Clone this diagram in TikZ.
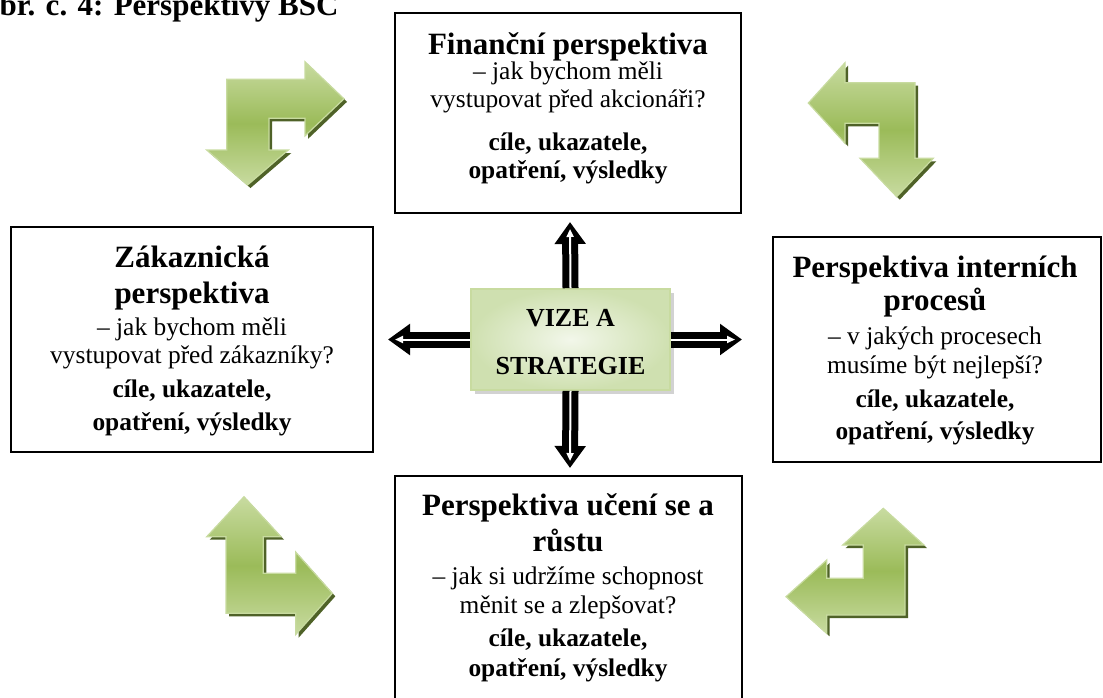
\documentclass[tikz,border=0pt]{standalone}
\usepackage{fontspec}
\setmainfont{Liberation Serif}
\usetikzlibrary{arrows.meta,shadows}
\definecolor{olivegreen}{RGB}{155,187,89}
\definecolor{olivelight}{RGB}{200,219,160}
\definecolor{olivedark}{RGB}{79,98,40}
\definecolor{vizelight}{RGB}{242,247,234}
\definecolor{vizedark}{RGB}{207,224,176}
\def\greenarrow#1{\fill[olivedark, shift={(3,3)}] #1 -- cycle; \shadedraw[top color=olivelight, bottom color=olivelight, middle color=olivegreen, draw=olivelight, line width=0.6pt] #1 -- cycle;}
\tikzset{
  persbox/.style={draw=black, line width=1pt, inner sep=0pt},
  headtext/.style={anchor=base, inner sep=0pt, font=\bfseries\fontsize{15.5}{18}\selectfont},
  bodytext/.style={anchor=base, inner sep=0pt, font=\fontsize{12.7}{14}\selectfont},
  boldtext/.style={anchor=base, inner sep=0pt, font=\bfseries\fontsize{12.7}{14}\selectfont},
  fatarrow/.style={line width=8pt, -{Triangle[width=15pt,length=11pt]}},
  thinarrow/.style={white, line width=1pt, shorten >=3.5pt, -{Triangle[width=3.5pt,length=4pt]}}
}

\begin{document}
\begin{tikzpicture}[x=0.5pt, y=-0.5pt]
		%%%%% START %%%%%
		\useasboundingbox (0,0) rectangle (1103,697);
		\clip (0,0) rectangle (1103,697);
		
		\node[anchor=base west, inner sep=0pt, font=\bfseries\fontsize{15.5}{18}\selectfont] (title) at (-25,15) {Obr. č. 4: Perspektivy BSC};
		
		\node[persbox, minimum width=173pt, minimum height=100pt] (fin) at (568,113) {};
		\node[persbox, minimum width=181pt, minimum height=112.5pt] (zak) at (192,339.5) {};
		\node[persbox, minimum width=164pt, minimum height=112.5pt] (int) at (937,349.5) {};
		\node[persbox, minimum width=173.5pt, minimum height=117pt] (uc) at (568.5,593) {};
		
		\node[draw=olivelight, line width=0.8pt, inner color=vizelight, outer color=vizedark, drop shadow={shadow xshift=1.8pt, shadow yshift=-1.8pt, fill=black!35}, minimum width=99.5pt, minimum height=50.5pt] (vize) at (570.5,339.5) {};
		\node[anchor=base, inner sep=0pt, font=\bfseries\fontsize{13}{15}\selectfont] (vize1) at (570.5,326.7) {VIZE A};
		\node[anchor=base, inner sep=0pt, font=\bfseries\fontsize{13}{15}\selectfont] (vize2) at (570.5,374) {STRATEGIE};
		
		\coordinate (upend) at (570,222);
		\coordinate (downend) at (570,468);
		\coordinate (leftend) at (388,339.5);
		\coordinate (rightend) at (742,339.5);
		\draw[fatarrow] (vize.north) -- (upend);
		\draw[thinarrow] (vize.north) -- (upend);
		\draw[fatarrow] (vize.south) -- (downend);
		\draw[thinarrow] (vize.south) -- (downend);
		\draw[fatarrow] (vize.west) -- (leftend);
		\draw[thinarrow] (vize.west) -- (leftend);
		\draw[fatarrow] (vize.east) -- (rightend);
		\draw[thinarrow] (vize.east) -- (rightend);
		
		\node[headtext] (fin1) at (568,54) {Finanční perspektiva};
		\node[bodytext] (fin2) at (568,79) {– jak bychom měli};
		\node[bodytext] (fin3) at (568,107) {vystupovat před akcionáři?};
		\node[boldtext] (fin4) at (568,150) {cíle, ukazatele,};
		\node[boldtext] (fin5) at (568,178) {opatření, výsledky};
		
		\node[headtext] (zak1) at (192,267) {Zákaznická};
		\node[headtext] (zak2) at (192,303) {perspektiva};
		\node[bodytext] (zak3) at (192,335) {– jak bychom měli};
		\node[bodytext] (zak4) at (192,363) {vystupovat před zákazníky?};
		\node[boldtext] (zak5) at (192,397) {cíle, ukazatele,};
		\node[boldtext] (zak6) at (192,430) {opatření, výsledky};
		
		\node[headtext] (int1) at (935,277) {Perspektiva interních};
		\node[headtext] (int2) at (935,310) {procesů};
		\node[bodytext] (int3) at (935,344) {– v jakých procesech};
		\node[bodytext] (int4) at (935,373) {musíme být nejlepší?};
		\node[boldtext] (int5) at (935,407) {cíle, ukazatele,};
		\node[boldtext] (int6) at (935,439) {opatření, výsledky};
		
		\node[headtext] (uc1) at (568,515) {Perspektiva učení se a};
		\node[headtext] (uc2) at (568,551) {růstu};
		\node[bodytext] (uc3) at (568,584) {– jak si udržíme schopnost};
		\node[bodytext] (uc4) at (568,613) {měnit se a zlepšovat?};
		\node[boldtext] (uc5) at (568,646) {cíle, ukazatele,};
		\node[boldtext] (uc6) at (568,676) {opatření, výsledky};
		
		\greenarrow{(226.7,79.3) -- (305,79.3) -- (305,61.7) -- (344,98.8) -- (305,135.9) -- (305,118.3) -- (269,118.3) -- (269,150) -- (288.3,150) -- (247.5,185) -- (206.7,150) -- (226.7,150)}
		\greenarrow{(808.3,103) -- (845,62.7) -- (845,82.7) -- (915,82.7) -- (915,158.3) -- (933.3,158.3) -- (896.7,196.7) -- (860,158.3) -- (879,158.3) -- (879,123.3) -- (845,123.3) -- (845,143.3)}
		\greenarrow{(244,496.7) -- (281,536.7) -- (263.3,536.7) -- (263.3,573.3) -- (295.7,573.3) -- (295.7,552) -- (332.3,593.3) -- (295.7,634.6) -- (295.7,613.3) -- (226,613.3) -- (226,536.7) -- (206.7,536.7)}
		\greenarrow{(883.3,508.3) -- (924,545) -- (905,545) -- (905,615) -- (826.7,615) -- (826.7,633.4) -- (786,596.7) -- (826.7,560) -- (826.7,578.3) -- (863.3,578.3) -- (863.3,545) -- (842.7,545)}
		
		%%%%% END %%%%%
\end{tikzpicture}
\end{document}
